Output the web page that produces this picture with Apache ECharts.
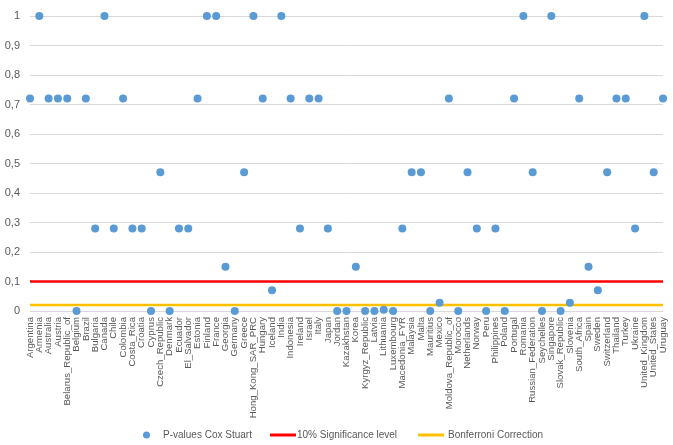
<!DOCTYPE html>
<html><head><meta charset="utf-8">
<script src="https://cdn.jsdelivr.net/npm/echarts@6/dist/echarts.min.js"></script>
<style>html,body{margin:0;padding:0;background:#fff}#c{width:673px;height:445px}</style>
</head><body><div id="c"></div>
<script>
const countries = ["Argentina","Armenia","Australia","Austria","Belarus_Republic_of","Belgium","Brazil","Bulgaria","Canada","Chile","Colombia","Costa_Rica","Croatia","Cyprus","Czech_Republic","Denmark","Ecuador","El_Salvador","Estonia","Finland","France","Georgia","Germany","Greece","Hong_Kong_SAR_PRC","Hungary","Iceland","India","Indonesia","Ireland","Israel","Italy","Japan","Jordan","Kazakhstan","Korea","Kyrgyz_Republic","Latvia","Lithuania","Luxembourg","Macedonia_FYR","Malaysia","Malta","Mauritius","Mexico","Moldova_Republic_of","Morocco","Netherlands","Norway","Peru","Philippines","Poland","Portugal","Romania","Russian_Federation","Seychelles","Singapore","Slovak_Republic","Slovenia","South_Africa","Spain","Sweden","Switzerland","Thailand","Turkey","Ukraine","United_Kingdom","United_States","Uruguay"];
const pValues = [0.72,1,0.72,0.72,0.72,0,0.72,0.28,1,0.28,0.72,0.28,0.28,0,0.47,0,0.28,0.28,0.72,1,1,0.15,0,0.47,1,0.72,0.07,1,0.72,0.28,0.72,0.72,0.28,0,0,0.15,0,0,0.004,0,0.28,0.47,0.47,0,0.028,0.72,0,0.47,0.28,0,0.28,0,0.72,1,0.47,0,1,0,0.028,0.72,0.15,0.07,0.47,0.72,0.72,0.28,1,0.47,0.72];
const significance = 0.1;
const bonferroni = 0.02;
const yTicks = [0,0.1,0.2,0.3,0.4,0.5,0.6,0.7,0.8,0.9,1];
const seriesNames = ["P-values Cox Stuart","10% Significance level","Bonferroni Correction"];

const first = countries[0], last = countries[countries.length-1];
const font = "Liberation Sans";
const chart = echarts.init(document.getElementById('c'));
const legText = {color:'#595959', fontSize:10, fontFamily:font};
chart.setOption({
  animation:false,
  grid:{left:30, right:10, top:16, bottom:134, containLabel:false},
  xAxis:{type:'category', data:countries, boundaryGap:false,
    axisLine:{show:false}, axisTick:{show:false},
    axisLabel:{interval:0, rotate:90, color:'#595959', fontSize:9.6, fontFamily:font, margin:6}},
  yAxis:{type:'value', min:0, max:1, interval:0.1,
    axisLine:{show:false}, axisTick:{show:false},
    splitLine:{lineStyle:{color:'#d9d9d9', width:1}},
    axisLabel:{color:'#595959', fontSize:11, fontFamily:font, margin:10,
      formatter:v=>{const t=yTicks.find(x=>Math.abs(x-v)<1e-9); return String(t===undefined?v:t).replace('.',',');}}},
  legend:[
    {left:143, top:430, padding:0, itemWidth:7, itemHeight:7, itemGap:0, data:[{name:seriesNames[0], icon:'circle'}], textStyle:Object.assign({padding:[0,0,0,8]}, legText)},
    {left:270, top:430, padding:0, itemWidth:26, itemHeight:3, itemGap:0, data:[{name:seriesNames[1], icon:'rect'}], textStyle:Object.assign({padding:[0,0,0,-4]}, legText)},
    {left:418, top:430, padding:0, itemWidth:26, itemHeight:3, itemGap:0, data:[{name:seriesNames[2], icon:'rect'}], textStyle:Object.assign({padding:[0,0,0,-1]}, legText)}
  ],
  series:[
    {name:seriesNames[1], type:'line', symbol:'none', data:[[first,significance],[last,significance]], lineStyle:{color:'#ff0000', width:2.5}, itemStyle:{color:'#ff0000'}, z:2},
    {name:seriesNames[2], type:'line', symbol:'none', data:[[first,bonferroni],[last,bonferroni]], lineStyle:{color:'#ffc000', width:2.5}, itemStyle:{color:'#ffc000'}, z:2},
    {name:seriesNames[0], type:'scatter', data:pValues, symbolSize:8, itemStyle:{color:'#5b9bd5', opacity:1}, z:3}
  ]
});
</script></body></html>
